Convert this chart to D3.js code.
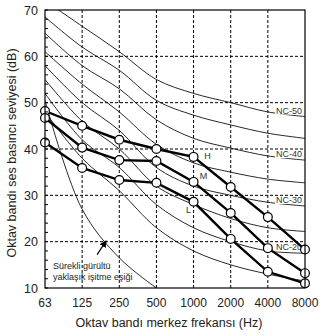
<!DOCTYPE html>
<html><head><meta charset="utf-8">
<script src="https://cdn.jsdelivr.net/npm/d3@7"></script>
<style>
html,body{margin:0;padding:0;background:#fff;}
svg{display:block;font-family:"Liberation Sans",Arial,sans-serif;}
</style></head>
<body><svg id="c" width="329" height="336"></svg>
<script>
const freqs = ["63","125","250","500","1000","2000","4000","8000"];
const yTicks = [10,20,30,40,50,60,70];
const ncNames = ["NC-15","NC-20","NC-25","NC-30","NC-35","NC-40","NC-45","NC-50"];
const nc15 = [48, 38, 31, 23, 18, 15, 13, 11.5];
const nc20 = [52, 42, 36, 28, 23, 20, 18, 17.5];
const nc25 = [55, 46, 40, 32, 28, 25, 23, 22.2];
const nc30 = [58, 50, 44, 36, 32, 30, 28.5, 27.7];
const nc35 = [61, 54, 48, 41, 37, 35, 33.5, 32.7];
const nc40 = [65, 58, 53, 46.3, 42.3, 40.2, 38.5, 37.6];
const nc45 = [68.5, 62, 57, 50.5, 47.3, 45.2, 43.4, 42.3];
const nc50 = [72, 66.5, 61, 55, 52, 50, 48, 47];
const ncLabeled = ["NC-20","NC-30","NC-40","NC-50"];
const threshFreqs = ["63","125","250","500"];
const threshold = [50.5, 27, 16.5, 10];
const seriesNames = ["H","M","L"];
const seriesH = [48.2, 45, 42, 40, 38.3, 31.8, 25.3, 18.3];
const seriesM = [46.7, 40.3, 37.6, 37.4, 32.9, 26.2, 18.6, 13.2];
const seriesL = [41.4, 35.9, 33.3, 32.7, 28.6, 20.6, 13.5, 11];
const annotation = ["Sürekli gürültü","yaklaşık işitme eşiği"];
const xTitle = "Oktav bandı merkez frekansı (Hz)";
const yTitle = "Oktav bandı ses basıncı seviyesi (dB)";

const ncData = [nc15,nc20,nc25,nc30,nc35,nc40,nc45,nc50];
const seriesData = [seriesH,seriesM,seriesL];

const L=45,R=305,T=10,B=288;
const svg=d3.select("#c");
const x=d3.scalePoint().domain(freqs).range([L,R]);
const y=d3.scaleLinear().domain([10,70]).range([B,T]);

const defs=svg.append("defs");
defs.append("clipPath").attr("id","clip").append("rect")
  .attr("x",L).attr("y",T).attr("width",R-L).attr("height",B-T);

// grid
const g=svg.append("g");
g.selectAll(".vg").data(freqs.slice(1,-1)).join("line")
  .attr("x1",d=>x(d)).attr("x2",d=>x(d)).attr("y1",T).attr("y2",B)
  .attr("stroke","#000").attr("stroke-width",1).attr("stroke-dasharray","3,2");
g.selectAll(".hg").data(yTicks.slice(1,-1)).join("line")
  .attr("x1",L).attr("x2",R).attr("y1",d=>y(d)).attr("y2",d=>y(d))
  .attr("stroke","#000").attr("stroke-width",1).attr("stroke-dasharray","3,2");

const plot=svg.append("g").attr("clip-path","url(#clip)");
const line=d3.line().x((d,i)=>x(freqs[i])).y(d=>y(d)).curve(d3.curveCatmullRom.alpha(0.5));
plot.selectAll(".nc").data(ncData).join("path")
  .attr("d",d=>line(d)).attr("fill","none").attr("stroke","#111").attr("stroke-width",0.9);

const tline=d3.line().x((d,i)=>x(threshFreqs[i])).y(d=>y(d)).curve(d3.curveCatmullRom.alpha(0.5));
plot.append("path").attr("d",tline(threshold)).attr("fill","none").attr("stroke","#111").attr("stroke-width",0.9);

// NC labels
ncLabeled.forEach(name=>{
  const v=ncData[ncNames.indexOf(name)][7];
  const tx=svg.append("text").attr("x",R-3).attr("y",y(v)-3)
    .attr("text-anchor","end").attr("font-size",9).attr("fill","#333").text(name);
  const bb=tx.node().getBBox();
  svg.insert("rect","text").attr("x",bb.x-1).attr("y",bb.y+1).attr("width",bb.width+2).attr("height",bb.height-2).attr("fill","#fff");
});

// series
const sline=d3.line().x((d,i)=>x(freqs[i])).y(d=>y(d));
seriesData.forEach(s=>{
  svg.append("path").attr("d",sline(s)).attr("fill","none").attr("stroke","#000").attr("stroke-width",2.4);
});
seriesData.forEach(s=>{
  svg.append("g").selectAll("circle").data(s).join("circle")
    .attr("cx",(d,i)=>x(freqs[i])).attr("cy",d=>y(d)).attr("r",4.4)
    .attr("fill","#fff").attr("stroke","#000").attr("stroke-width",1.2);
});
// series labels near 1000 Hz
const lblOff=[[14,-1],[10,-6],[-5,8]];
seriesNames.forEach((n,k)=>{
  svg.append("text").attr("x",x("1000")+lblOff[k][0]).attr("y",y(seriesData[k][4])+lblOff[k][1]+3)
    .attr("font-size",9).attr("fill","#333").attr("text-anchor","middle").text(n);
});

// frame
svg.append("rect").attr("x",L).attr("y",T).attr("width",R-L).attr("height",B-T)
  .attr("fill","none").attr("stroke","#000").attr("stroke-width",1.2);

// ticks
svg.append("g").selectAll("line").data(d3.range(10,71,2)).join("line")
  .attr("x1",L).attr("x2",L+3).attr("y1",d=>y(d)).attr("y2",d=>y(d)).attr("stroke","#000");
svg.append("g").selectAll("text").data(yTicks).join("text")
  .attr("x",L-7).attr("y",d=>y(d)+4.5).attr("text-anchor","end").attr("font-size",12.5).attr("fill","#222").text(d=>d);
svg.append("g").selectAll("text").data(freqs).join("text")
  .attr("x",d=>x(d)).attr("y",B+19).attr("text-anchor","middle").attr("font-size",12).attr("fill","#222").text(d=>d);

svg.append("text").attr("x",169).attr("y",327).attr("text-anchor","middle").attr("font-size",12.5).attr("fill","#222").text(xTitle);
svg.append("text").attr("transform",`translate(16,${(T+B)/2+4}) rotate(-90)`).attr("text-anchor","middle").attr("font-size",12.5).attr("fill","#222").text(yTitle);

// annotation
annotation.forEach((t,i)=>{
  svg.append("text").attr("x",L+8).attr("y",y(14.2)+i*11).attr("font-size",9).attr("fill","#222").text(t);
});
defs.append("marker").attr("id","ah").attr("viewBox","0 0 10 10").attr("refX",9).attr("refY",5)
  .attr("markerWidth",6).attr("markerHeight",6).attr("orient","auto")
  .append("path").attr("d","M0,0L10,5L0,10z").attr("fill","#000");
svg.append("line").attr("x1",x("125")+15).attr("y1",y(17.2)).attr("x2",x("125")+24).attr("y2",y(20.2))
  .attr("stroke","#000").attr("stroke-width",1.2).attr("marker-end","url(#ah)");
</script></body></html>
